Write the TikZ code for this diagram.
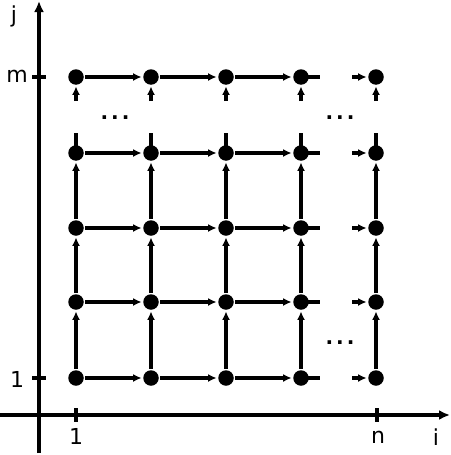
\documentclass[tikz,border=0pt]{standalone}
\usepackage{fontspec}
\setmainfont{DejaVu Sans}
\usetikzlibrary{arrows.meta}
\begin{document}
\begin{tikzpicture}[x=1pt,y=-1pt, line width=3.3pt,
 dot/.style={circle,fill,inner sep=0pt,minimum size=15.5pt},
 arr/.style={-{Latex[length=8.5pt,width=8pt]}},
 axis/.style={-{Latex[length=11pt,width=10pt]}},
 lab/.style={font=\fontsize{22}{22}\selectfont, inner sep=0pt},
 dots/.style={font=\fontsize{20}{20}\selectfont\bfseries, inner sep=0pt, anchor=base}]
\useasboundingbox (0,0) rectangle (450,455);
% axes
\coordinate (ybot) at (39,453);
\coordinate (ytop) at (39,1);
\coordinate (xl) at (0,415);
\coordinate (xr) at (450,415);
\draw[axis] (ybot) -- (ytop);
\draw[axis] (xl) -- (xr);
\coordinate (tm1) at (32,77); \coordinate (tm2) at (46,77);
\coordinate (ta1) at (32,378); \coordinate (ta2) at (46,378);
\coordinate (tb1) at (76,408); \coordinate (tb2) at (76,422);
\coordinate (tn1) at (377,408); \coordinate (tn2) at (377,422);
\draw (tm1) -- (tm2);
\draw (ta1) -- (ta2);
\draw (tb1) -- (tb2);
\draw (tn1) -- (tn2);
\node[lab] (lj) at (14,16) {j};
\node[lab] (lm) at (17,76) {m};
\node[lab] (l1y) at (17,379) {1};
\node[lab] (l1x) at (76,436) {1};
\node[lab] (ln) at (378,437) {n};
\node[lab] (li) at (436,437) {i};
% nodes
\foreach \c/\x in {1/76,2/151,3/226,4/301,5/376}
 \foreach \r/\y in {1/378,2/302,3/228,4/153,5/77}
  \node[dot] (n\c\r) at (\x,\y) {};
% horizontal
\foreach \r/\y in {1/378,2/302,3/228,4/153,5/77}{
  \draw[arr] (n1\r) -- (n2\r);
  \draw[arr] (n2\r) -- (n3\r);
  \draw[arr] (n3\r) -- (n4\r);
  \coordinate (hs\r) at (320,\y);
  \coordinate (hi\r) at (352,\y);
  \draw (n4\r.center) -- (hs\r);
  \draw[arr] (hi\r) -- (n5\r);
}
% vertical
\foreach \c/\x in {1/76,2/151,3/226,4/301,5/376}{
  \draw[arr] (n\c1) -- (n\c2);
  \draw[arr] (n\c2) -- (n\c3);
  \draw[arr] (n\c3) -- (n\c4);
  \coordinate (vs\c) at (\x,133);
  \coordinate (vi\c) at (\x,101);
  \draw (n\c4.center) -- (vs\c);
  \draw[arr] (vi\c) -- (n\c5);
}
\node[dots] (d1) at (115,119) {.\hspace{3pt}.\hspace{3pt}.};
\node[dots] (d2) at (340,119) {.\hspace{3pt}.\hspace{3pt}.};
\node[dots] (d3) at (340,344) {.\hspace{3pt}.\hspace{3pt}.};
\end{tikzpicture}
\end{document}
